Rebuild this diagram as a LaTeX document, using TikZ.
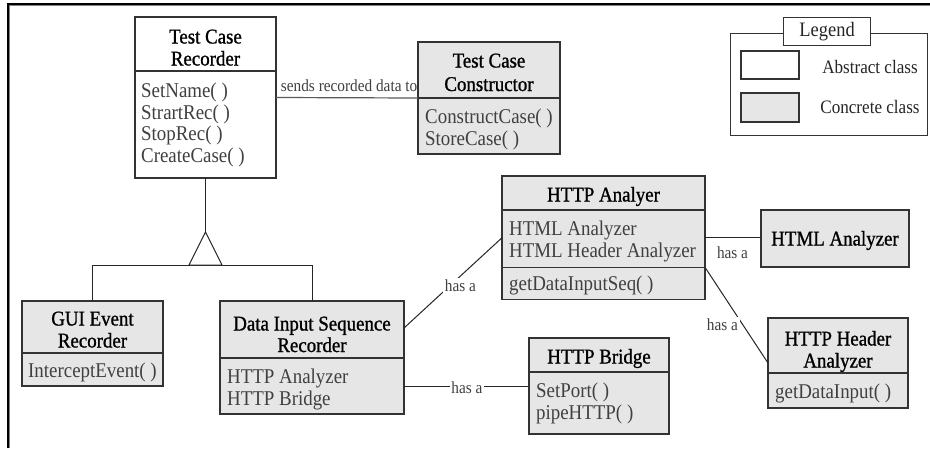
\documentclass[tikz,border=0pt]{standalone}
\usepackage{fontspec}
\setmainfont{Liberation Serif}
\newfontfamily\bodyfont[FakeStretch=0.9]{Liberation Serif}
\newfontfamily\hdrfont[FakeStretch=0.9,FakeBold=1]{Liberation Serif}
\definecolor{concrete}{RGB}{230,230,230}
\definecolor{edge}{RGB}{51,51,51}
\definecolor{bodyink}{RGB}{64,64,64}
\tikzset{
  clsbox/.style={draw=edge, line width=1.3pt, anchor=north west, inner sep=0pt, outer sep=0pt},
  abstractcls/.style={clsbox, fill=white},
  concretecls/.style={clsbox, fill=concrete},
  divider/.style={draw=edge, line width=1.3pt},
  hdrtxt/.style={anchor=base, inner sep=0pt, text=black, font=\hdrfont\fontsize{21}{24}\selectfont},
  bodytxt/.style={anchor=base west, inner sep=0pt, text=bodyink, font=\bodyfont\fontsize{21}{24}\selectfont},
  conn/.style={draw=black!85, line width=1pt},
  lbl/.style={anchor=base, inner sep=1.5pt, text=bodyink, font=\bodyfont\fontsize{17}{20}\selectfont},
  legtxt/.style={anchor=base, inner sep=0pt, text=black!85, font=\bodyfont\fontsize{19}{22}\selectfont}
}
\begin{document}
\begin{tikzpicture}[x=1pt, y=-1pt]
\useasboundingbox (0,0) rectangle (930,448);
\fill[white] (0,0) rectangle (930,448);

% frame (top and left edges)
\draw[gray, line width=1.2pt] (9.6,448) -- (9.6,5.6) -- (930,5.6);
\draw[black, line width=2.4pt] (8,448) -- (8,4.2) -- (930,4.2);

% ---------- Test Case Recorder (abstract) ----------
\node[abstractcls, minimum width=141pt, minimum height=161pt] (tcr) at (135,17) {};
\node[hdrtxt] (tcr-h1) at (205.5,43.5) {Test Case};
\node[hdrtxt] (tcr-h2) at (205.5,65.5) {Recorder};
\draw[divider] (135,71) -- (276,71);
\node[bodytxt] (tcr-b1) at (141,97.5) {SetName( )};
\node[bodytxt] (tcr-b2) at (141,119) {StrartRec( )};
\node[bodytxt] (tcr-b3) at (141,140.5) {StopRec( )};
\node[bodytxt] (tcr-b4) at (141,162) {CreateCase( )};

% ---------- Test Case Constructor ----------
\node[concretecls, minimum width=142pt, minimum height=112pt] (tcc) at (418,42) {};
\node[hdrtxt] (tcc-h1) at (489,67.5) {Test Case};
\node[hdrtxt] (tcc-h2) at (489,91) {Constructor};
\draw[divider] (418,98) -- (560,98);
\node[bodytxt] (tcc-b1) at (425,123) {ConstructCase( )};
\node[bodytxt] (tcc-b2) at (425,145) {StoreCase( )};

% ---------- GUI Event Recorder ----------
\node[concretecls, minimum width=141pt, minimum height=85pt] (gui) at (22,301) {};
\node[hdrtxt] (gui-h1) at (92.5,325.5) {GUI Event};
\node[hdrtxt] (gui-h2) at (92.5,347.5) {Recorder};
\draw[divider] (22,353) -- (163,353);
\node[bodytxt] (gui-b1) at (28,377) {InterceptEvent( )};

% ---------- Data Input Sequence Recorder ----------
\node[concretecls, minimum width=184pt, minimum height=113pt] (disr) at (220,301) {};
\node[hdrtxt] (disr-h1) at (312,330.5) {Data Input Sequence};
\node[hdrtxt] (disr-h2) at (312,352) {Recorder};
\draw[divider] (220,358) -- (404,358);
\node[bodytxt] (disr-b1) at (227,383) {HTTP Analyzer};
\node[bodytxt] (disr-b2) at (227,405.5) {HTTP Bridge};

% ---------- HTTP Analyer ----------
\node[concretecls, minimum width=203pt, minimum height=123.5pt] (ha) at (502,176) {};
\node[hdrtxt] (ha-h1) at (603.5,201.5) {HTTP Analyer};
\draw[divider] (502,210) -- (705,210);
\node[bodytxt] (ha-b1) at (509,235) {HTML Analyzer};
\node[bodytxt] (ha-b2) at (509,257.5) {HTML Header Analyzer};
\draw[divider] (502,267.3) -- (705,267.3);
\node[bodytxt] (ha-b3) at (509,290.5) {getDataInputSeq( )};

% ---------- HTML Analyzer ----------
\node[concretecls, minimum width=148pt, minimum height=57pt] (htmla) at (761,210) {};
\node[hdrtxt] (htmla-h1) at (835,245.5) {HTML Analyzer};

% ---------- HTTP Header Analyzer ----------
\node[concretecls, minimum width=140pt, minimum height=90pt] (hha) at (768,318) {};
\node[hdrtxt] (hha-h1) at (838,345.5) {HTTP Header};
\node[hdrtxt] (hha-h2) at (838,367.5) {Analyzer};
\draw[divider] (768,373) -- (908,373);
\node[bodytxt] (hha-b1) at (775,398) {getDataInput( )};

% ---------- HTTP Bridge ----------
\node[concretecls, minimum width=140pt, minimum height=96pt] (hb) at (529,338) {};
\node[hdrtxt] (hb-h1) at (599,363.5) {HTTP Bridge};
\draw[divider] (529,372) -- (669,372);
\node[bodytxt] (hb-b1) at (536,397) {SetPort( )};
\node[bodytxt] (hb-b2) at (536,419.5) {pipeHTTP( )};

% ---------- association: recorder -> constructor ----------
\draw[draw=black!65, line width=1.2pt] (tcr.east) -- (tcc.west);
\node[lbl, anchor=base east, inner sep=0pt] (sends) at (417.5,91) {sends recorded data to};

% ---------- generalization ----------
\coordinate (gen) at (205.5,232);
\coordinate (genb) at (205.5,265);
\draw[conn] (tcr.south) -- (gen);
\draw[conn] (gui.north) -- (gui.north |- genb) -- (disr.north |- genb) -- (disr.north);
\draw[conn, fill=white, line join=miter] (gen) -- ++(-16.5,33) -- ++(33,0) -- cycle;

% ---------- "has a" associations ----------
\draw[conn] ([yshift=-27pt]disr.north east) -- (ha.west);
\node[lbl, fill=white] (has1) at (460.5,291.5) {has a};

\draw[conn] (ha.east) -- (ha.east -| htmla.west);
\node[lbl] (has2) at (732.5,258) {has a};

\draw[conn] ([yshift=32.2pt]ha.south east) -- (hha.west);
\node[lbl, fill=white] (has3) at (722.5,330) {has a};

\draw[conn] (disr.east |- hb.west) -- (hb.west);
\node[lbl, fill=white] (has4) at (467,393) {has a};

% ---------- legend ----------
\node[draw=edge, line width=1.2pt, anchor=north west, minimum width=197pt, minimum height=102pt, inner sep=0pt] (legend) at (730,33) {};
\node[draw=edge, line width=1.2pt, fill=white, anchor=north west, minimum width=87pt, minimum height=28pt, inner sep=0pt, text=black!85, font=\bodyfont\fontsize{20.5}{22}\selectfont] (legtitle) at (783,17) {Legend};
\node[abstractcls, line width=1.2pt, minimum width=58pt, minimum height=28pt] (legabs) at (741,51) {};
\node[concretecls, line width=1.2pt, minimum width=58pt, minimum height=29pt] (legcon) at (741,93) {};
\node[legtxt] (legabs-t) at (870,73) {Abstract class};
\node[legtxt] (legcon-t) at (870,113.5) {Concrete class};
\end{tikzpicture}
\end{document}
